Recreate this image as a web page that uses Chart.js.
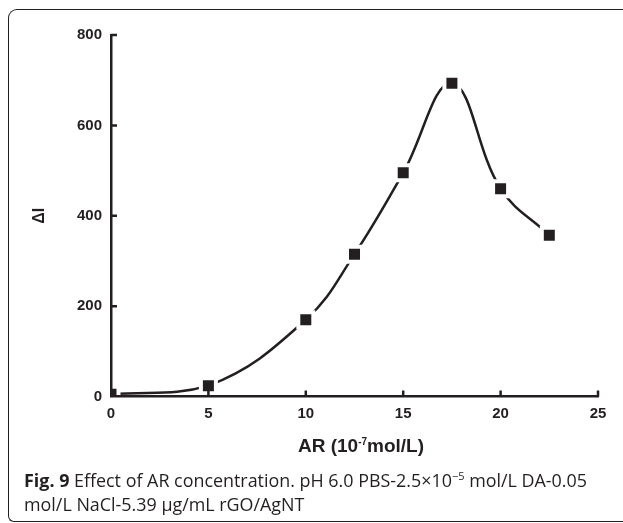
<!DOCTYPE html>
<html><head><meta charset="utf-8">
<script src="https://cdn.jsdelivr.net/npm/chart.js@4"></script>
<style>
html,body{margin:0;padding:0;background:#fff;}
body{width:623px;height:523px;position:relative;overflow:hidden;}
#frame{position:absolute;left:8px;top:9px;width:700px;height:511px;border-left:1.5px solid #231f20;border-top:1.5px solid #231f20;border-bottom:1.5px solid #231f20;border-top-left-radius:9px;border-bottom-left-radius:6px;}
#wrap{position:absolute;left:0;top:0;width:623px;height:440px;}
#xtitle{position:absolute;left:0;width:722px;top:435px;text-align:center;font-family:"Liberation Sans",Arial,sans-serif;font-weight:700;font-size:19px;line-height:22px;color:#231f20;}
#xtitle sup{font-size:10px;vertical-align:7px;line-height:0;}
#cap{position:absolute;left:24px;top:468px;width:600px;font-family:"Open Sans",sans-serif;font-size:17.9px;line-height:24px;color:#231f20;white-space:nowrap;}
#cap b{font-weight:700;}
#cap sup{font-size:11px;line-height:0;vertical-align:7px;}
</style></head>
<body>
<div id="frame"></div>
<div id="wrap"><canvas id="c" width="623" height="440"></canvas></div>
<div id="xtitle">AR (10<sup>-7</sup>mol/L)</div>
<div id="cap"><b>Fig. 9</b> Effect of AR concentration. pH 6.0 PBS-2.5×10<sup>−5</sup> mol/L DA-0.05<br>mol/L NaCl-5.39 μg/mL rGO/AgNT</div>
<script>
const concentrations = [0, 5, 10, 12.5, 15, 17.5, 20, 22.5];
const deltaI = [5, 24, 170, 315, 495, 693, 460, 357];
const xTicks = [0, 5, 10, 15, 20, 25];
const yTicks = [0, 200, 400, 600, 800];
const ink = '#231f20';

const innerTicks = {
  id: 'innerTicks',
  afterDraw(chart) {
    const {ctx, scales: {x, y}} = chart;
    ctx.save();
    ctx.strokeStyle = ink;
    ctx.lineWidth = 2.5;
    ctx.beginPath();
    xTicks.forEach(v => { if (v === 0) return; const px = x.getPixelForValue(v); ctx.moveTo(px, y.bottom); ctx.lineTo(px, y.bottom - 6); });
    yTicks.forEach(v => { if (v === 0) return; const py = y.getPixelForValue(v); ctx.moveTo(x.left, py); ctx.lineTo(x.left + 6, py); });
    ctx.stroke();
    ctx.restore();
  }
};

new Chart(document.getElementById('c'), {
  type: 'line',
  data: {
    datasets: [{
      data: concentrations.map((c, i) => ({x: c, y: deltaI[i]})),
      borderColor: ink,
      borderWidth: 2.5,
      tension: 0.4,
      pointStyle: 'rect',
      pointRadius: 10.6,
      pointBackgroundColor: ink,
      pointBorderColor: '#ffffff',
      pointBorderWidth: 4
    }]
  },
  options: {
    responsive: false,
    animation: false,
    events: [],
    layout: {padding: {left: 0, right: 25, top: 35, bottom: 0}},
    plugins: {legend: {display: false}, tooltip: {enabled: false}},
    scales: {
      x: {
        type: 'linear', min: 0, max: 25,
        afterFit: s => { s.height = 43.5; },
        afterBuildTicks: s => { s.ticks = xTicks.map(v => ({value: v})); },
        grid: {display: false, drawTicks: false},
        border: {display: true, color: ink, width: 2.5, z: 1},
        ticks: {color: ink, padding: 8, maxRotation: 0, font: {family: 'Liberation Sans', size: 15, weight: 'bold'}}
      },
      y: {
        type: 'linear', min: 0, max: 800,
        afterFit: s => { s.width = 111; },
        afterBuildTicks: s => { s.ticks = yTicks.map(v => ({value: v})); },
        grid: {display: false, drawTicks: false},
        border: {display: true, color: ink, width: 2.5, z: 1},
        ticks: {color: ink, padding: 9, font: {family: 'Liberation Sans', size: 15, weight: 'bold'}},
        title: {display: true, text: 'ΔI', color: ink, padding: {top: 30, bottom: 0}, font: {family: 'Liberation Sans', size: 16, weight: 'bold'}}
      }
    }
  },
  plugins: [innerTicks]
});
</script>
</body></html>
